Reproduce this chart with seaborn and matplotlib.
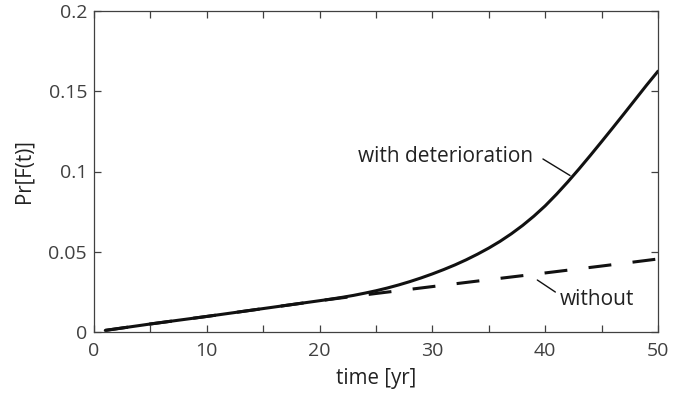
import matplotlib
matplotlib.use("Agg")
import matplotlib.pyplot as plt
import matplotlib.ticker as mticker
import pandas as pd
import seaborn as sns

sns.set_style("ticks")
plt.rcParams['font.family'] = ['Open Sans', 'DejaVu Sans']

# values
t_with = [1, 5, 10, 15, 20, 21, 22, 23, 24, 25, 26, 27, 28, 29, 30, 31, 32, 33, 34, 35,
          36, 37, 38, 39, 40, 41, 42, 43, 44, 45, 46, 47, 48, 49, 50]
pf_with = [0.001, 0.005, 0.0097, 0.0146, 0.0195, 0.0205, 0.0216, 0.0228, 0.0242, 0.0257,
           0.0274, 0.0293, 0.0314, 0.0337, 0.0362, 0.0389, 0.0418, 0.0450, 0.0485, 0.0523,
           0.0565, 0.0612, 0.0664, 0.0722, 0.0786, 0.0858, 0.0935, 0.1016, 0.1100, 0.1186,
           0.1273, 0.1361, 0.1450, 0.1539, 0.1625]

t_without = [1, 5, 10, 15, 20, 25, 30, 35, 40, 45, 50]
pf_without = [0.001, 0.005, 0.0097, 0.0146, 0.0195, 0.0240, 0.0283, 0.0326, 0.0368, 0.0411, 0.0455]

x_ticks = [0, 5, 10, 15, 20, 25, 30, 35, 40, 45, 50]
y_ticks = [0, 0.05, 0.1, 0.15, 0.2]

df_with = pd.DataFrame({"t": t_with, "pf": pf_with})
df_without = pd.DataFrame({"t": t_without, "pf": pf_without})

axis_col = '#404040'
text_col = '#222222'

fig = plt.figure(figsize=(6.94, 4.01), dpi=100)
ax = fig.add_axes([94 / 694, 1 - 332 / 401, (658 - 94) / 694, (332 - 11) / 401])

sns.lineplot(data=df_with, x="t", y="pf", ax=ax, color='#111111', lw=2.2,
             estimator=None, sort=True)
sns.lineplot(data=df_without, x="t", y="pf", ax=ax, color='#111111', lw=2.2,
             linestyle=(0, (7.5, 7)), estimator=None, sort=True)

ax.set_xlim(0, 50)
ax.set_ylim(0, 0.2)
ax.set_xticks(x_ticks)
ax.set_xticklabels([str(v) if v % 10 == 0 else '' for v in x_ticks])
ax.set_yticks(y_ticks)
ax.yaxis.set_major_formatter(mticker.FuncFormatter(lambda v, p: '%g' % v))

for s in ax.spines.values():
    s.set_visible(True)
    s.set_color(axis_col)
    s.set_linewidth(0.9)
ax.tick_params(direction='in', length=5, width=0.9, color=axis_col,
               labelcolor=axis_col, labelsize=14, top=True, right=True)
ax.tick_params(axis='x', pad=7)
ax.tick_params(axis='y', pad=5)

ax.set_xlabel('time [yr]', fontsize=14.8, color=text_col, labelpad=6)
ax.set_ylabel('Pr[F(t)]', fontsize=14.8, color=text_col, labelpad=10)

# curve labels with leader lines
ax.text(38.9, 0.1061, 'with deterioration', ha='right', va='baseline',
        fontsize=15, color=text_col)
ax.annotate('', xy=(42.2, 0.0975), xytext=(39.8, 0.1078),
            arrowprops=dict(arrowstyle='-', lw=1, color='#111111',
                            shrinkA=0, shrinkB=0))
ax.text(41.3, 0.0168, 'without', ha='left', va='baseline',
        fontsize=15, color=text_col)
ax.annotate('', xy=(40.9, 0.0249), xytext=(39.3, 0.0324),
            arrowprops=dict(arrowstyle='-', lw=1, color='#111111',
                            shrinkA=0, shrinkB=0))

fig.savefig('out.png', dpi=100)
